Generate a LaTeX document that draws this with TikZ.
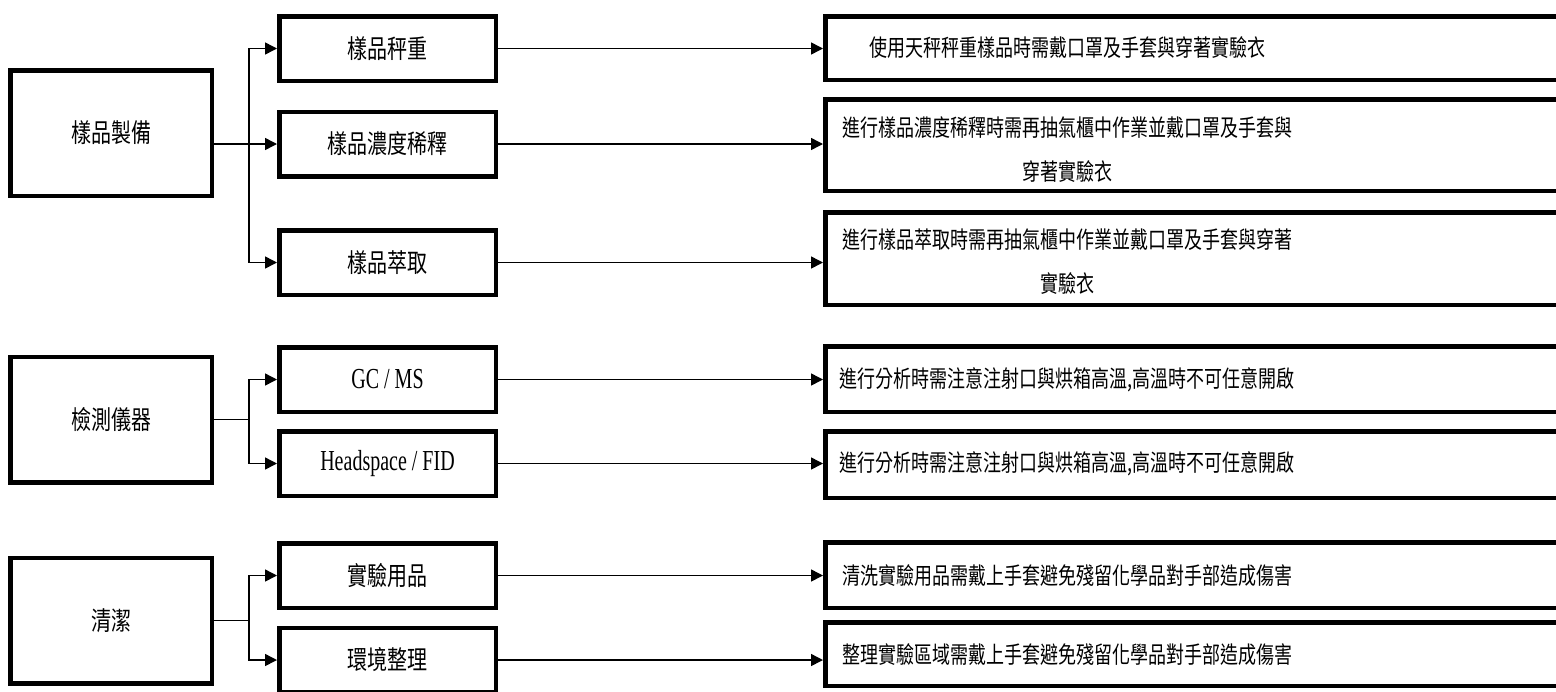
\documentclass[tikz,border=0pt]{standalone}
\usepackage{graphicx}
\usepackage{fontspec}
\setmainfont{Liberation Serif}
\newfontfamily\cjk{Noto Sans CJK TC}
\usetikzlibrary{positioning,calc,arrows.meta}

% 字形拉高
\newcommand\tallt[1]{\scalebox{1}[1.3]{#1}}
\newcommand\talll[1]{\scalebox{1}[1.45]{\rmfamily #1}}

\tikzset{
    grpbox/.style={draw, line width=2.25pt, inner sep=0pt,
        minimum width=100.75pt, minimum height=62.75pt,
        font=\cjk\fontsize{10pt}{12pt}\selectfont},
    itembox/.style={draw, line width=2.25pt, inner sep=0pt,
        minimum width=108.25pt, minimum height=32.25pt,
        font=\cjk\fontsize{10pt}{12pt}\selectfont},
    notebox/.style={draw, line width=2.25pt, inner sep=0pt, minimum width=371.25pt},
    notetext/.style={align=center, inner sep=0pt,
        font=\cjk\fontsize{9pt}{22pt}\selectfont},
    trunk/.style={line width=0.75pt},
    link/.style={line width=0.75pt, -{Triangle[length=6pt,width=6pt]}},
}

\begin{document}
\begin{tikzpicture}[x=0.5pt,y=-0.5pt]
    \useasboundingbox (0,0) rectangle (1556,691);
    \clip (0,0) rectangle (1556,691);

    % 左欄:類別
    \node[grpbox] (prep)  at (111,133)   {\tallt{樣品製備}};
    \node[grpbox] (inst)  at (111,419.5) {\tallt{檢測儀器}};
    \node[grpbox] (clean) at (111,620.5) {\tallt{清潔}};

    % 中欄:項目
    \node[itembox] (weigh)   at (387.5,48.5)  {\tallt{樣品秤重}};
    \node[itembox] (dilute)  at (387.5,144)   {\tallt{樣品濃度稀釋}};
    \node[itembox] (extract) at (387.5,262.5) {\tallt{樣品萃取}};
    \node[itembox] (gcms)    at (387.5,379.5) {\talll{GC / MS}};
    \node[itembox] (hsfid)   at (387.5,463.5) {\talll{Headspace / FID}};
    \node[itembox] (ware)    at (387.5,575.5) {\tallt{實驗用品}};
    \node[itembox] (tidy)    at (387.5,660)   {\tallt{環境整理}};

    % 右欄:注意事項(框右緣超出畫面)
    \node[notebox, minimum height=31.75pt] (nweigh)   at (1196.5,48)    {};
    \node[notebox, minimum height=45.75pt] (ndilute)  at (1196.5,145)   {};
    \node[notebox, minimum height=46.25pt] (nextract) at (1196.5,258.5) {};
    \node[notebox, minimum height=32.75pt] (ngcms)    at (1196.5,379)   {};
    \node[notebox, minimum height=33.25pt] (nhsfid)   at (1196.5,464.5) {};
    \node[notebox, minimum height=32.75pt] (nware)    at (1196.5,575)   {};
    \node[notebox, minimum height=31.75pt] (ntidy)    at (1196.5,654)   {};

    \node[notetext] (tweigh)   at (1067,48)    {\tallt{使用天秤秤重樣品時需戴口罩及手套與穿著實驗衣}};
    \node[notetext] (tdilute)  at (1067,150)   {\tallt{進行樣品濃度稀釋時需再抽氣櫃中作業並戴口罩及手套與}\\\tallt{穿著實驗衣}};
    \node[notetext] (textract) at (1067,262)   {\tallt{進行樣品萃取時需再抽氣櫃中作業並戴口罩及手套與穿著}\\\tallt{實驗衣}};
    \node[notetext] (tgcms)    at (1067,380)   {\tallt{進行分析時需注意注射口與烘箱高溫,高溫時不可任意開啟}};
    \node[notetext] (thsfid)   at (1067,464)   {\tallt{進行分析時需注意注射口與烘箱高溫,高溫時不可任意開啟}};
    \node[notetext] (tware)    at (1067,576)   {\tallt{清洗實驗用品需戴上手套避免殘留化學品對手部造成傷害}};
    \node[notetext] (ttidy)    at (1067,655)   {\tallt{整理實驗區域需戴上手套避免殘留化學品對手部造成傷害}};

    % 分岔點
    \coordinate (sprep)  at (249,144);
    \coordinate (sinst)  at (249,419.5);
    \coordinate (sclean) at (249,620.5);

    % 類別 -> 項目
    \draw[trunk] (prep.east |- sprep) -- (sprep);
    \draw[link] (sprep) |- (weigh.west);
    \draw[link] (sprep) -- (dilute.west);
    \draw[link] (sprep) |- (extract.west);

    \draw[trunk] (inst.east) -- (sinst);
    \draw[link] (sinst) |- (gcms.west);
    \draw[link] (sinst) |- (hsfid.west);

    \draw[trunk] (clean.east) -- (sclean);
    \draw[link] (sclean) |- (ware.west);
    \draw[link] (sclean) |- (tidy.west);

    % 項目 -> 注意事項
    \draw[link] (weigh.east)   -- (weigh.east -| nweigh.west);
    \draw[link] (dilute.east)  -- (dilute.east -| ndilute.west);
    \draw[link] (extract.east) -- (extract.east -| nextract.west);
    \draw[link] (gcms.east)    -- (gcms.east -| ngcms.west);
    \draw[link] (hsfid.east)   -- (hsfid.east -| nhsfid.west);
    \draw[link] (ware.east)    -- (ware.east -| nware.west);
    \draw[link] (tidy.east)    -- (tidy.east -| ntidy.west);

\end{tikzpicture}
\end{document}
